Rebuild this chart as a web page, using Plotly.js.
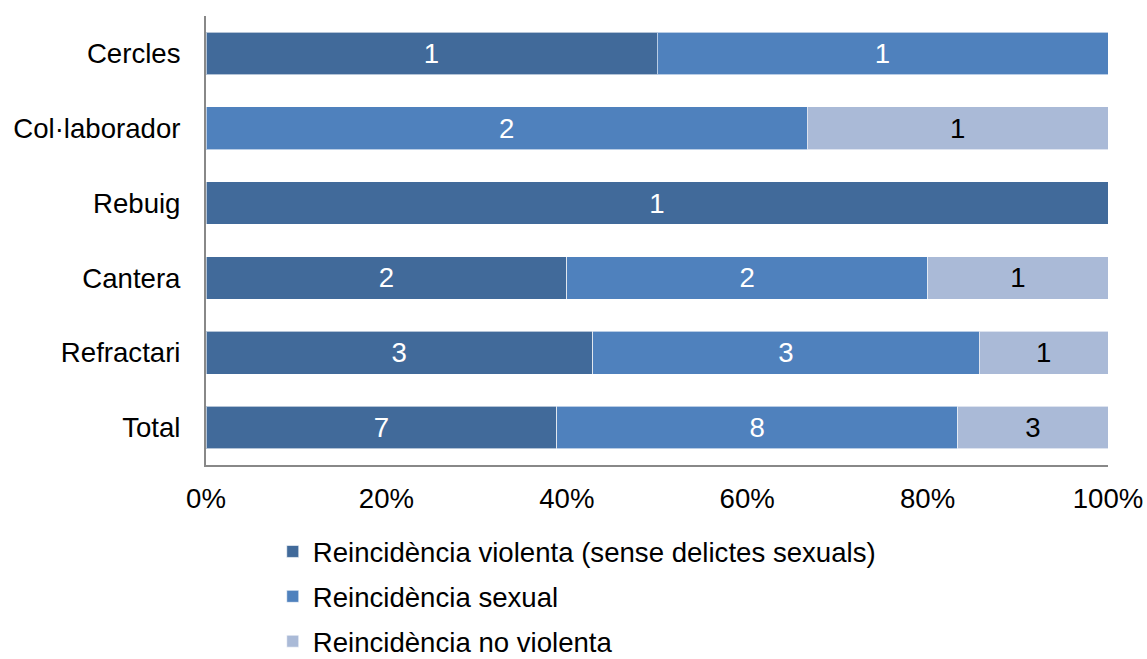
<!DOCTYPE html>
<html>
<head>
<meta charset="utf-8">
<script src="https://cdn.plot.ly/plotly-3.0.1.min.js"></script>
<style>html,body{margin:0;padding:0;background:#fff;}#chart{width:1147px;height:659px;}</style>
</head>
<body>
<div id="chart"></div>
<script>
const categories = ["Cercles", "Col·laborador", "Rebuig", "Cantera", "Refractari", "Total"];
const seriesNames = ["Reincidència violenta (sense delictes sexuals)", "Reincidència sexual", "Reincidència no violenta"];
const violenta = [1, 0, 1, 2, 3, 7];
const sexual = [1, 2, 0, 2, 3, 8];
const noViolenta = [0, 1, 0, 1, 1, 3];
const xTickVals = [0, 20, 40, 60, 80, 100];
const xTickText = ["0%", "20%", "40%", "60%", "80%", "100%"];

const colors = ["#416A9A", "#4F81BD", "#AABAD7"];
const textColors = ["#ffffff", "#ffffff", "#000000"];
const allSeries = [violenta, sexual, noViolenta];
const FS = 27.6;

const traces = allSeries.map((vals, i) => ({
  type: "bar",
  orientation: "h",
  name: seriesNames[i],
  legendgroup: "g" + i,
  y: categories,
  x: vals,
  text: vals.map(v => v === 0 ? "" : String(v)),
  textposition: "inside",
  insidetextanchor: "middle",
  constraintext: "none",
  textfont: {family: "Liberation Sans, Arial, sans-serif", size: FS, color: textColors[i]},
  marker: {color: colors[i], line: {color: "rgba(255,255,255,0.6)", width: 1}},
  hoverinfo: "skip"
}));

const layout = {
  width: 1147, height: 659,
  margin: {l: 206, r: 39, t: 16, b: 194, autoexpand: false},
  barmode: "stack",
  barnorm: "percent",
  bargap: 0.43,
  paper_bgcolor: "#fff",
  plot_bgcolor: "#fff",
  font: {family: "Liberation Sans, Arial, sans-serif", size: FS, color: "#000"},
  xaxis: {
    range: [0, 100],
    tickvals: xTickVals,
    ticktext: xTickText,
    showgrid: false,
    zeroline: false,
    showline: true,
    linecolor: "#888888",
    linewidth: 2,
    ticks: "outside",
    ticklen: 8,
    tickcolor: "rgba(0,0,0,0)",
    tickfont: {size: FS, color: "#000"},
    fixedrange: true
  },
  yaxis: {
    type: "category",
    autorange: "reversed",
    showgrid: false,
    zeroline: false,
    showline: true,
    linecolor: "#888888",
    linewidth: 2,
    ticks: "outside",
    ticklen: 18,
    tickcolor: "rgba(0,0,0,0)",
    tickfont: {size: FS, color: "#000"},
    fixedrange: true
  },
  showlegend: true,
  legend: {
    orientation: "v",
    x: 0.074, xanchor: "left",
    yref: "container",
    y: 1 - 527 / 659, yanchor: "top",
    traceorder: "grouped",
    tracegroupgap: 6,
    bgcolor: "rgba(0,0,0,0)",
    font: {size: FS, color: "#000"},
    itemwidth: 30
  }
};

Plotly.newPlot("chart", traces, layout, {displayModeBar: false, staticPlot: true});
</script>
</body>
</html>
